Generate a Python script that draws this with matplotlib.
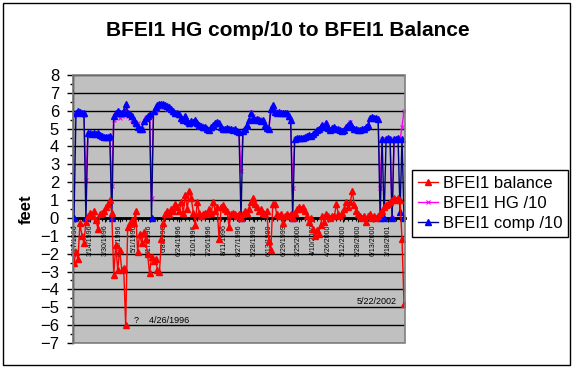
import matplotlib
matplotlib.use('Agg')
import matplotlib.pyplot as plt
import numpy as np
from matplotlib.patches import Rectangle
from matplotlib.ticker import MultipleLocator, FixedLocator

plt.rcParams['font.family'] = ['Liberation Sans', 'DejaVu Sans']

# ---- data ----
comp = [
    0, 5.9, 6.0, 5.95, 5.9, 5.9, 0, 4.75, 4.75, 4.7,
    4.75, 4.7, 4.75, 4.65, 4.6, 4.55, 4.55, 4.55, 4.6, 0,
    5.7, 5.9, 6.0, 5.9, 5.85, 6.0, 6.4, 5.9, 5.8, 5.7,
    5.5, 5.3, 5.1, 4.95, 5.0, 5.4, 5.6, 5.7, 5.8, 0,
    6.0, 6.2, 6.3, 6.35, 6.4, 6.35, 6.3, 6.25, 6.2, 6.1,
    6.0, 5.9, 5.85, 5.8, 5.6, 5.5, 5.7, 5.4, 5.3, 5.4,
    5.35, 5.5, 5.3, 5.2, 5.15, 5.1, 5.1, 5.0, 4.9, 5.1,
    5.2, 5.3, 5.35, 5.3, 5.1, 5.0, 5.0, 5.05, 5.0, 4.95,
    4.9, 4.95, 4.85, 4.8, 0, 4.85, 5.0, 5.2, 5.5, 5.85,
    5.6, 5.5, 5.55, 5.5, 5.45, 5.5, 5.2, 5.05, 5.0, 6.1,
    6.3, 5.95, 5.9, 5.95, 5.9, 5.9, 5.85, 5.9, 5.7, 5.5,
    0, 4.4, 4.45, 4.45, 4.45, 4.5, 4.55, 4.6, 4.65, 4.6,
    4.7, 4.8, 4.9, 5.0, 5.1, 5.2, 5.1, 5.3, 5.05, 4.9,
    5.05, 5.1, 5.0, 4.95, 4.9, 4.85, 4.9, 5.1, 5.2, 5.3,
    5.1, 5.0, 4.95, 4.9, 4.9, 4.95, 5.0, 5.1, 5.2, 5.6,
    5.65, 5.6, 5.6, 5.55, 0, 4.4, 0, 4.4, 4.45, 4.4,
    0, 4.4, 4.4, 4.45, 0.35, 4.4, 0,
]

hg = [
    5.7, 5.8, 5.9, 5.85, 5.8, 5.75, 2.1, 4.7, 4.7, 4.65,
    4.7, 4.65, 4.7, 4.6, 4.5, 4.45, 4.45, 4.5, 4.5, 1.8,
    5.5, 5.8, 5.9, 5.6, 5.7, 5.9, 6.1, 5.7, 5.6, 5.5,
    5.3, 5.2, 5.3, 5.0, 5.0, 5.3, 5.6, 5.5, 5.7, 1.1,
    5.9, 6.0, 6.1, 6.2, 6.2, 6.2, 6.2, 6.1, 6.1, 6.0,
    5.9, 5.8, 5.8, 5.7, 5.5, 5.4, 5.6, 5.3, 5.2, 5.3,
    5.3, 5.4, 5.2, 5.1, 5.1, 5.0, 5.1, 5.0, 4.9, 5.0,
    5.1, 5.2, 5.3, 5.2, 5.0, 4.95, 4.9, 5.0, 4.95, 4.9,
    4.85, 4.9, 4.8, 4.75, 2.6, 4.8, 4.95, 5.1, 5.4, 5.95,
    5.7, 5.55, 5.6, 5.55, 5.5, 5.45, 5.15, 5.0, 4.95, 5.9,
    6.2, 6.0, 5.95, 5.9, 5.95, 5.9, 5.8, 5.85, 5.6, 5.4,
    1.7, 4.4, 4.4, 4.4, 4.45, 4.5, 4.5, 4.55, 4.6, 4.55,
    4.65, 4.75, 4.85, 4.95, 5.05, 5.15, 5.05, 5.25, 5.0, 4.85,
    5.0, 5.05, 4.95, 4.9, 4.85, 4.8, 4.85, 5.05, 5.15, 5.35,
    5.05, 4.95, 4.9, 4.85, 4.85, 4.9, 4.95, 5.05, 5.15, 5.55,
    5.6, 5.6, 5.55, 5.5, 1.7, 4.4, 4.35, 4.4, 4.4, 4.35,
    0, 4.4, 4.4, 4.4, 4.35, 5.1, 6.0,
]

balance = [
    -2.5, -1.9, -2.3, -0.3, -1.0, -1.4, -0.2, 0.1, 0.3, 0.1,
    0.4, -0.1, -0.6, 0.2, 0.3, 0.4, 0.6, 0.8, 1.0, 0.3,
    -3.2, -1.5, -2.9, -1.8, -2.9, -2.8, -6.0, -0.5, -0.3, -0.1,
    -0.3, 0.4, -1.9, -0.9, -1.4, -0.8, -1.2, -2.0, -3.1, -2.2,
    -2.4, -2.3, -2.9, -3.0, -1.2, -0.3, 0.2, 0.4, 0.2, 0.5,
    0.4, 0.8, 0.6, 0.4, 0.9, 0.3, 1.3, 0.5, 1.5, 1.1,
    0.3, -0.4, 0.9, 0.3, 0.1, 0.2, 0.3, 0.2, 0.5, 0.3,
    0.9, 0.4, 0.6, -1.2, 0.6, 0.7, 0.5, 0.4, -0.5, 0.2,
    0.3, 0.2, 0.1, 0.2, 0.0, 0.2, 0.4, 0.3, 0.5, 0.9,
    1.1, 0.8, 0.6, 0.4, 0.5, 0.3, 0.2, 0.4, -1.3, -1.8,
    0.8, 0.8, 0.2, 0.1, 0.2, -0.3, 0.1, 0.2, 0.1, 0.2,
    0.0, 0.3, 0.5, 0.6, 0.5, 0.6, 0.4, 0.1, -0.2, 0.0,
    -0.6, -1.0, -0.7, -0.9, -0.4, 0.1, -0.2, 0.2, 0.1, 0.0,
    0.1, 0.1, 0.8, 0.2, 0.1, 0.3, 0.5, 0.9, 0.6, 0.9,
    1.5, 0.7, 0.4, 0.2, 0.1, 0.0, 0.1, -0.2, 0.1, 0.2,
    0.0, 0.1, 0.0, 0.1, 0.3, 0.4, 0.6, 0.7, 0.8, 0.9,
    1.0, 1.1, 1.0, 1.1, 1.0, -1.2, -4.8,
]

date_labels = [
    "2/27/1996", "3/14/1996", "3/30/1996", "4/15/1996", "5/1/1996",
    "5/17/1996", "6/8/1996", "6/24/1996", "7/10/1996", "7/26/1996",
    "8/11/1996", "8/27/1996", "5/28/1999", "6/13/1999", "6/29/1999",
    "3/25/2000", "4/10/2000", "4/26/2000", "5/12/2000", "5/28/2000",
    "6/13/2000", "3/18/2001",
]

series_names = ["BFEI1 balance", "BFEI1 HG /10", "BFEI1 comp /10"]
title = "BFEI1 HG comp/10 to BFEI1 Balance"

# ---- figure ----
W, H = 576, 369
fig = plt.figure(figsize=(W / 100, H / 100), dpi=100)
fig.patch.set_facecolor('white')
ax = fig.add_axes([73 / W, 1 - 343 / H, 332 / W, 268 / H])
ax.set_facecolor('#C0C0C0')

x = np.arange(len(comp))
ax.set_xlim(-0.5, len(comp) - 0.5)
ax.set_ylim(-7, 8)

l_hg, = ax.plot(x, hg, color='#FF00FF', lw=1, marker='x', ms=3.5, mew=0.8, zorder=3)
l_comp, = ax.plot(x, comp, color='#000080', lw=1, marker='^', ms=4.4,
                  mfc='#0000FF', mec='#0000FF', zorder=4)
l_bal, = ax.plot(x, balance, color='#FF0000', lw=1, marker='^', ms=3.8,
                 mfc='#FF0000', mec='#FF0000', zorder=5)

# grid
ax.yaxis.set_major_locator(MultipleLocator(1))
ax.yaxis.set_minor_locator(MultipleLocator(0.5))
ax.yaxis.grid(True, which='major', color='black', lw=1)
ax.set_axisbelow(True)

# spines
for s in ['top', 'right']:
    ax.spines[s].set_visible(False)
ax.spines['left'].set_color('black')
ax.spines['left'].set_linewidth(1)
ax.spines['bottom'].set_position(('data', 0))
ax.spines['bottom'].set_linewidth(2)
ax.spines['bottom'].set_color('black')
ax.add_patch(Rectangle((0, 0), 1, 1, transform=ax.transAxes, fill=False,
                       edgecolor='#808080', lw=1.2, zorder=6, clip_on=False))

# x ticks
tick_pos = np.arange(len(date_labels)) * 7.5 + 0.5
ax.xaxis.set_major_locator(FixedLocator(tick_pos))
ax.set_xticklabels(date_labels)
ax.xaxis.set_minor_locator(MultipleLocator(2))
ax.tick_params(axis='x', which='major', length=3, width=0.8, direction='out',
               pad=1.5, labelsize=5, labelrotation=90)
ax.tick_params(axis='x', which='minor', length=2, width=0.8, direction='out')

# y ticks
ax.set_yticks(range(-7, 9))
ax.tick_params(axis='y', which='major', length=4, width=1, direction='out',
               pad=6, labelsize=12)
ax.tick_params(axis='y', which='minor', length=2, width=1, direction='out')

# annotations
ax.text(30, -5.72, "?    4/26/1996", fontsize=6.5, ha='left', va='center')
ax.text(142, -4.65, "5/22/2002", fontsize=6.5, ha='left', va='center')

# labels
fig.text(288 / W, 1 - 30 / H, title, ha='center', va='center',
         fontsize=15, fontweight='bold')
fig.text(26 / W, 1 - 209 / H, "feet", ha='center', va='center', rotation=90,
         fontsize=12, fontweight='bold')

leg = fig.legend([l_bal, l_hg, l_comp], series_names, loc='upper left',
                 bbox_to_anchor=(412 / W, 1 - 170 / H), fontsize=12,
                 frameon=True, fancybox=False, edgecolor='black', framealpha=1,
                 handlelength=1.2, handletextpad=0.3, labelspacing=0.3,
                 borderpad=0.35, borderaxespad=0, markerscale=1.0)
leg.get_frame().set_linewidth(1)

# chart border
fig.add_artist(Rectangle((3 / W, 4 / H), 567 / W, 362 / H, transform=fig.transFigure,
                         fill=False, edgecolor='black', lw=1))

fig.savefig('out.png', dpi=100)
